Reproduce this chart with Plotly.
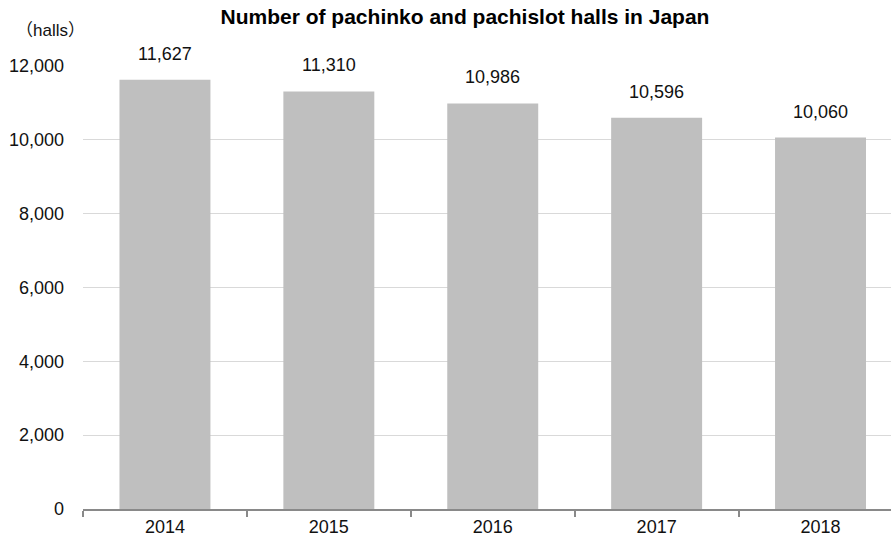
import plotly.graph_objects as go

years = ["2014", "2015", "2016", "2017", "2018"]
halls = [11627, 11310, 10986, 10596, 10060]
labels = ["11,627", "11,310", "10,986", "10,596", "10,060"]
ytick_vals = [0, 2000, 4000, 6000, 8000, 10000, 12000]
ytick_text = ["0", "2,000", "4,000", "6,000", "8,000", "10,000", "12,000"]

FONT = "Liberation Sans, Arial, Noto Sans CJK JP, sans-serif"

W, H = 891, 544

fig = go.Figure()
fig.add_trace(go.Bar(x=list(range(len(years))), y=halls,
                     marker=dict(color="#bfbfbf", line=dict(width=0)),
                     hoverinfo="skip"))

for i, (v, t) in enumerate(zip(halls, labels)):
    fig.add_annotation(x=i, y=v, text=t, showarrow=False, yanchor="middle", yshift=26,
                       font=dict(size=18, color="#111111", family=FONT))

fig.add_annotation(xref="paper", yref="paper", x=-69 / 808, y=1 + 36 / 443,
                   xanchor="left", yanchor="middle",
                   text="（halls）", showarrow=False,
                   font=dict(size=17, color="#111111", family=FONT))

fig.update_layout(
    width=W, height=H,
    margin=dict(l=83, r=0, t=66, b=35, pad=0),
    paper_bgcolor="white", plot_bgcolor="white",
    bargap=0.445,
    showlegend=False,
    title=dict(text="<b>Number of pachinko and pachislot halls in Japan</b>",
               x=465 / W, xanchor="center", y=1 - 17 / H, yanchor="middle",
               font=dict(size=21, color="#000000", family=FONT)),
    xaxis=dict(range=[-0.5, 4.43], tickvals=list(range(len(years))), ticktext=years,
               showline=True, linecolor="#898989",
               linewidth=2, ticks="", showgrid=False, zeroline=False,
               tickfont=dict(size=18, color="#111111", family=FONT)),
    yaxis=dict(range=[0, 12000], tickvals=ytick_vals, ticktext=ytick_text,
               showgrid=True, gridcolor="#d9d9d9", gridwidth=1, zeroline=False,
               showline=False, ticks="", ticklabelstandoff=18,
               tickfont=dict(size=18, color="#111111", family=FONT)),
)

# boundary tick marks on the category axis
fig.update_xaxes(minor=dict(tickvals=[-0.5, 0.5, 1.5, 2.5, 3.5], ticks="outside",
                            ticklen=6, tickwidth=2, tickcolor="#898989", showgrid=False))

fig.write_html("out.html", config={"displayModeBar": False},
               post_script="document.body.style.margin='0';document.body.style.overflow='hidden';")
